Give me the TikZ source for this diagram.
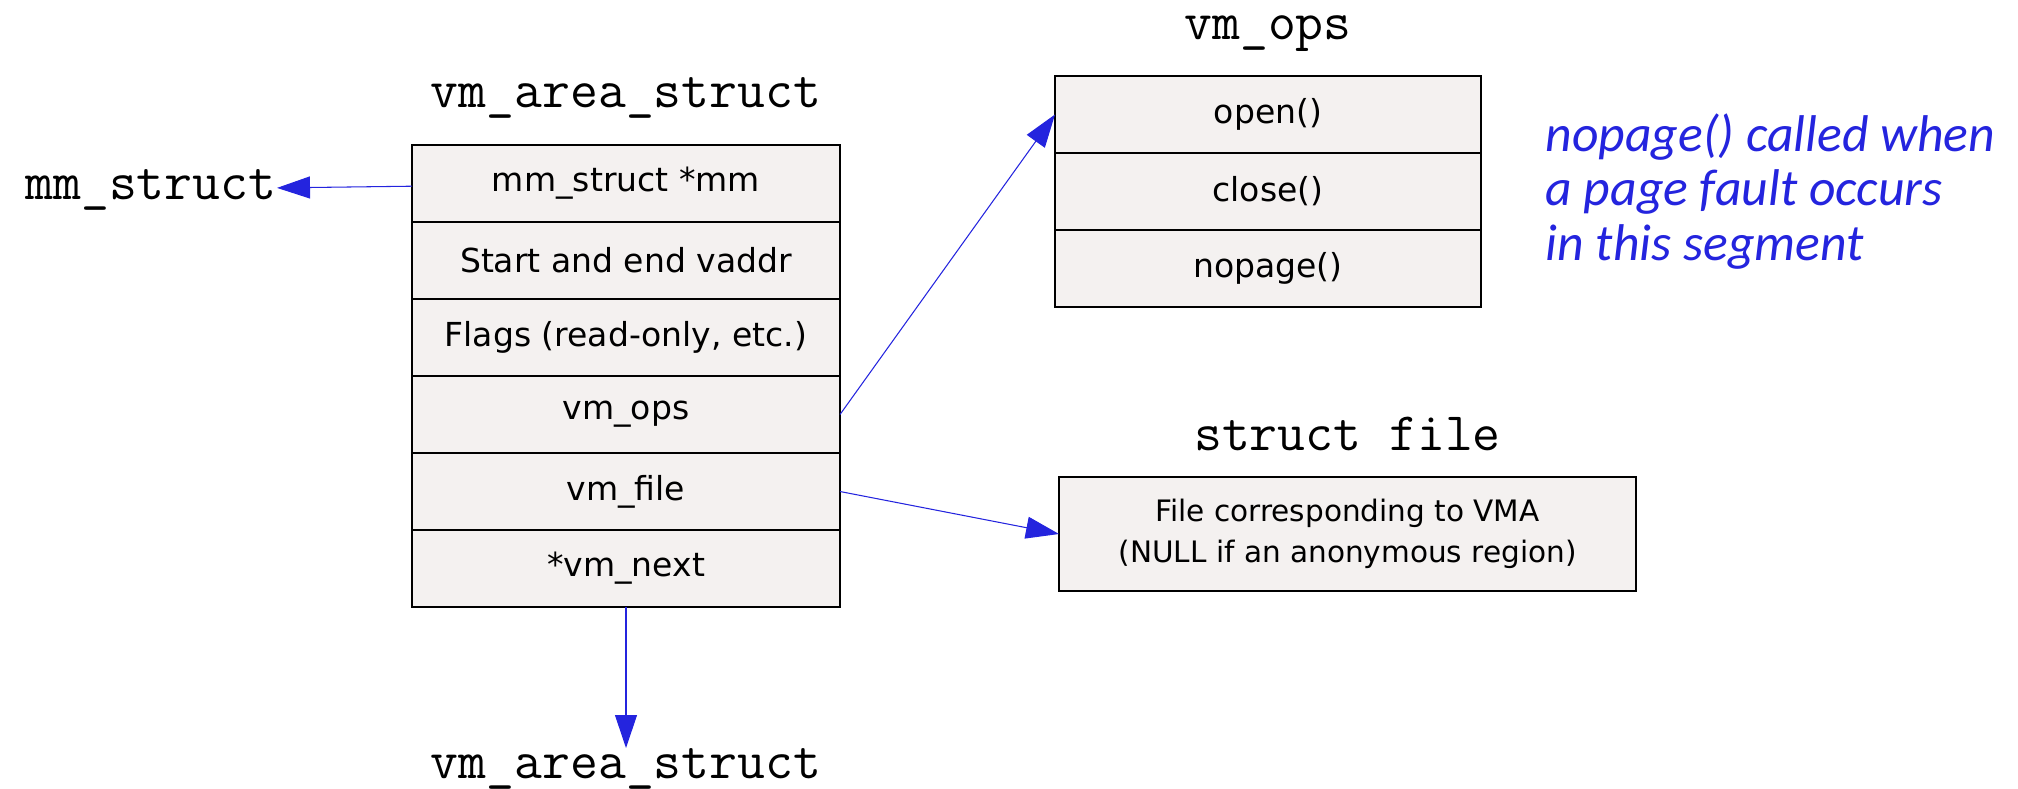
\documentclass[tikz,border=0pt]{standalone}
\usepackage{fontspec}
\setmainfont{DejaVu Sans}
\newfontfamily\notefont{Carlito}
\usetikzlibrary{arrows.meta, positioning}
\definecolor{vmablue}{RGB}{36,36,222}
\definecolor{vmafill}{RGB}{244,241,240}
\tikzset{
  field/.style={
    rectangle, draw=black, line width=0.75pt, fill=vmafill,
    minimum width=4.28cm, minimum height=0.77cm, inner sep=0pt, outer sep=0pt,
    align=center, font=\fontsize{9.4}{11.7}\selectfont
  },
  typename/.style={inner sep=0pt, font=\ttfamily\fontsize{15.4}{18}\selectfont},
  note/.style={inner sep=0pt, align=left, text=vmablue,
    font=\notefont\itshape\fontsize{14.7}{15.6}\selectfont},
  ptr/.style={-{Triangle[length=3.3mm, width=2.2mm]}, line width=0.3pt, draw=vmablue}
}

\begin{document}
\begin{tikzpicture}
\useasboundingbox (0,0) rectangle (20.18,-7.88);

% the vma record
\node[field] (mm) at (6.26,-1.835) {mm\_struct *mm};
\node[field, below=0pt of mm] (range) {Start and end vaddr};
\node[field, below=0pt of range] (flags) {Flags (read-only, etc.)};
\node[field, below=0pt of flags] (ops) {vm\_ops};
\node[field, below=0pt of ops] (file) {vm\_file};
\node[field, below=0pt of file] (next) {*vm\_next};

% operations table
\node[field, minimum width=4.26cm] (open) at (12.68,-1.145) {open()};
\node[field, minimum width=4.26cm, below=0pt of open] (close) {close()};
\node[field, minimum width=4.26cm, below=0pt of close] (nopage) {nopage()};

\node[field, minimum width=5.77cm, minimum height=1.14cm, font=\fontsize{8.4}{11.7}\selectfont]
  (vmafile) at (13.475,-5.34) {File corresponding to VMA\\(NULL if an anonymous region)};

\node[typename, above=0.26cm of mm] (areatitle) {vm\_area\_struct};
\node[typename, above=0.24cm of open] (opstitle) {vm\_ops};
\node[typename, above=0.25cm of vmafile] (filetitle) {struct file};
\node[typename, left=1.35cm of mm, yshift=-0.06cm] (mmstruct) {mm\_struct};
\node[typename, below=1.41cm of next] (nextarea) {vm\_area\_struct};

\node[note, right=0.64cm of close] (fault) {nopage() called when\\a page fault occurs\\in this segment};

\foreach \a/\b in {mm/mmstruct, ops.east/open.west, file.east/vmafile.west, next/nextarea}
  \draw[ptr] (\a) -- (\b);
\end{tikzpicture}
\end{document}
